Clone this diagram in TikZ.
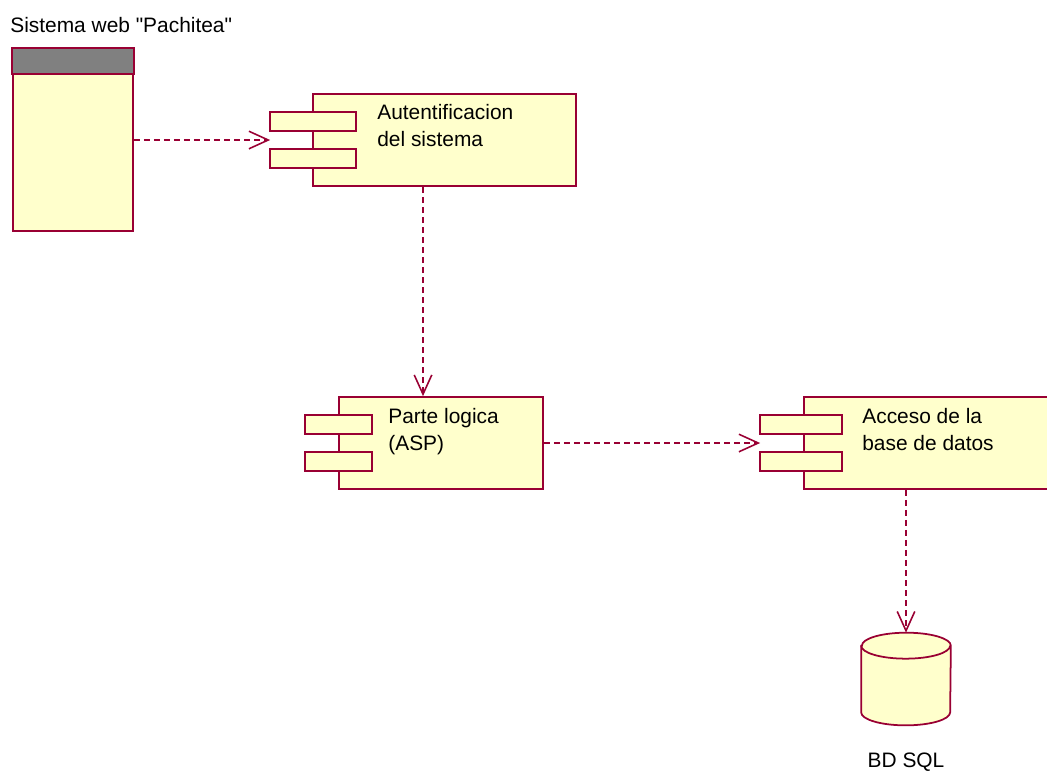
\documentclass[tikz,border=0pt]{standalone}
\usepackage{fontspec}
\setmainfont{Liberation Sans}[Ligatures=TeXOff]
\usetikzlibrary{positioning,arrows.meta,calc}
\definecolor{roseline}{RGB}{153,0,51}
\definecolor{rosefill}{RGB}{255,255,204}
\definecolor{rosegray}{RGB}{128,128,128}

\begin{document}
\begin{tikzpicture}[
    x=0.02cm, y=-0.02cm,
    comp/.style={draw=roseline, fill=rosefill, line width=1pt, inner sep=0pt,
                 minimum height=1.84cm},
    tab/.style={draw=roseline, fill=rosefill, line width=1pt},
    txt/.style={anchor=base west, align=left, inner sep=0pt,
                font=\fontsize{11.9}{15.3}\selectfont},
    dep/.style={draw=roseline, line width=0.9pt, dash pattern=on 3.4pt off 2.3pt,
                -{Straight Barb[length=11pt,width=10pt]}},
  ]
  \useasboundingbox (0,0) rectangle (1047,772);
  \clip (0,0) rectangle (1047,772);

  % web system
  \node[txt] (title) at (10,32) {Sistema web "Pachitea"};
  \node[comp, minimum width=2.4cm, minimum height=3.64cm] (web) at (73,140) {};
  \draw[tab, fill=rosegray] (web.north west) rectangle ($(web.north east)+(0,26)$);

  % components
  \node[comp, minimum width=5.26cm] (auth) at (444.5,140) {};
  \node[comp, minimum width=4.08cm] (logic) at (441,443) {};
  \node[comp, minimum width=5.12cm] (data) at (932,443) {};
  \foreach \n/\l/\r in {auth/42/44, logic/33/34, data/43/39} {
    \draw[tab] ($(\n.west)+(-\l,-28)$) rectangle ($(\n.west)+(\r,-9)$);
    \draw[tab] ($(\n.west)+(-\l,9)$) rectangle ($(\n.west)+(\r,28)$);
  }
  % base of a two-line text = its last line
  \node[txt] (authtxt) at (377,146) {Autentificacion\\del sistema};
  \node[txt] (logictxt) at (388,450) {Parte logica\\(ASP)};
  \node[txt] (datatxt) at (862,450) {Acceso de la\\base de datos};

  % database
  \node[minimum width=1.78cm, minimum height=1.84cm, inner sep=0pt] (db) at (906,679) {};
  \filldraw[tab] ($(db.north west)+(0,13)$) -- ($(db.south west)+(0,-13)$)
    arc[start angle=180, end angle=360, x radius=0.89cm, y radius=0.26cm]
    -- ($(db.north east)+(0,13)$)
    arc[start angle=0, end angle=180, x radius=0.89cm, y radius=0.26cm] -- cycle;
  \draw[tab, fill=none] ($(db.north west)+(0,13)$)
    arc[start angle=180, end angle=360, x radius=0.89cm, y radius=0.26cm];
  \node[txt, anchor=base] (dblabel) at (906,767) {BD SQL};

  % dependencies
  \coordinate (authin) at ($(auth.west)+(-42,0)$);
  \coordinate (authout) at ($(auth.south)+(-21.5,0)$);
  \coordinate (datain) at ($(data.west)+(-43,0)$);
  \draw[dep] (web.east) -- (authin);
  \draw[dep] (authout) -- (authout |- logic.north);
  \draw[dep] (logic.east) -- (datain);
  \draw[dep] (db.north |- data.south) -- (db.north);
\end{tikzpicture}
\end{document}
